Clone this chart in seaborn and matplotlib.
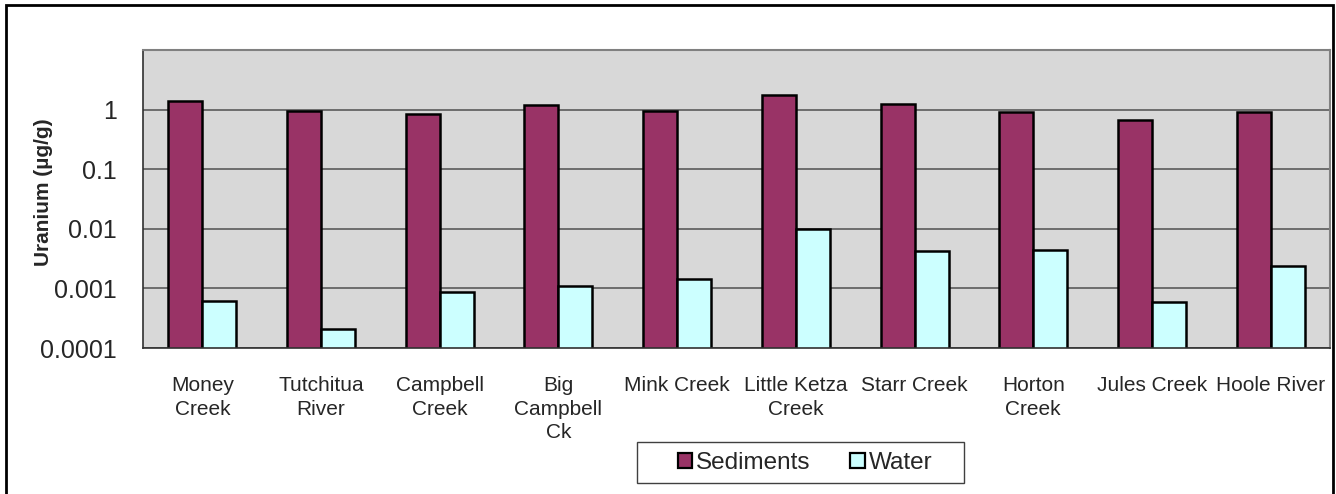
import matplotlib
matplotlib.use("Agg")
import matplotlib.pyplot as plt
import matplotlib.ticker as mticker
from matplotlib.patches import Rectangle, Patch
import numpy as np
import pandas as pd
import seaborn as sns

sites = ["Money\nCreek", "Tutchitua\nRiver", "Campbell\nCreek", "Big\nCampbell\nCk",
         "Mink Creek", "Little Ketza\nCreek", "Starr Creek", "Horton\nCreek",
         "Jules Creek", "Hoole River"]
sediments = [1.39, 0.93, 0.835, 1.21, 0.95, 1.73, 1.22, 0.91, 0.66, 0.90]
water = [0.00062, 0.000212, 0.00088, 0.0011, 0.00144, 0.0100, 0.0043, 0.00444, 0.00059, 0.00235]
series = ["Sediments", "Water"]
colors = ["#993366", "#CCFFFF"]
y_ticks = [0.0001, 0.001, 0.01, 0.1, 1]
y_tick_labels = ["0.0001", "0.001", "0.01", "0.1", "1"]

df = pd.DataFrame({
    "site": sites * 2,
    "series": [series[0]] * len(sites) + [series[1]] * len(sites),
    "value": sediments + water,
})

sns.set_theme(style="white")
plt.rcParams["font.family"] = ["Liberation Sans", "DejaVu Sans"]

W, H = 1336, 494
fig = plt.figure(figsize=(W / 100, H / 100), dpi=100)
ax = fig.add_axes([143 / W, 1 - 348 / H, (1330 - 143) / W, (348 - 50) / H])
ax.set_yscale("log")
ax.set_facecolor("#D8D8D8")

sns.barplot(data=df, x="site", y="value", hue="series", order=sites, hue_order=series,
            palette=colors, saturation=1, width=0.573, edgecolor="black", linewidth=1.8,
            errorbar=None, legend=False, ax=ax)

ax.set_ylim(1e-4, 10)
ax.set_xlim(-0.5, len(sites) - 0.5)
ax.set_axisbelow(True)

ax.yaxis.set_major_locator(mticker.FixedLocator(y_ticks))
ax.yaxis.set_major_formatter(mticker.FixedFormatter(y_tick_labels))
ax.yaxis.set_minor_locator(mticker.NullLocator())
ax.grid(axis="y", which="major", color="#505050", linewidth=1.1)
ax.grid(axis="x", visible=False)

ax.set_xticks(range(len(sites)))
ax.set_xticklabels(sites, fontsize=15, linespacing=1.28)
ax.set_xticks(np.arange(-0.5, len(sites), 1.0), minor=True)
ax.tick_params(axis="x", which="major", length=0, pad=20.5)
ax.tick_params(axis="x", which="minor", length=5, width=1, color="#404040", direction="out")
ax.tick_params(axis="y", which="major", length=5.8, width=1, color="#404040", direction="out",
               labelsize=18, pad=13)

ax.set_xlabel("")
ax.set_ylabel("Uranium (µg/g)", fontsize=15, fontweight="bold")
ax.yaxis.set_label_coords(-0.0758, 0.522)

for side in ["top", "right"]:
    ax.spines[side].set_color("#808080")
    ax.spines[side].set_linewidth(1.5)
for side in ["left", "bottom"]:
    ax.spines[side].set_color("#303030")
    ax.spines[side].set_linewidth(1.2)

# legend entries, with a separate rectangular frame around them
handles = [Patch(facecolor=c, edgecolor="black", linewidth=1.6) for c in colors]
fig.legend(handles, series, loc="center", bbox_to_anchor=(805 / W, 1 - 463 / H),
           ncol=2, fontsize=17.5, frameon=False,
           handlelength=0.58, handleheight=0.58, handletextpad=0.16, columnspacing=1.65,
           borderpad=0.2)
fig.patches.append(Rectangle((637 / W, 1 - 483 / H), (964 - 637) / W, (483 - 442) / H,
                             transform=fig.transFigure, fill=False, edgecolor="#404040",
                             linewidth=1.0))

# outer chart frame
fig.patches.append(Rectangle((6 / W, -0.05), (1333 - 6) / W, 1.05 - 5 / H,
                             transform=fig.transFigure, fill=False, edgecolor="black",
                             linewidth=2, clip_on=False))

fig.savefig("out.png", dpi=100, facecolor="white")
